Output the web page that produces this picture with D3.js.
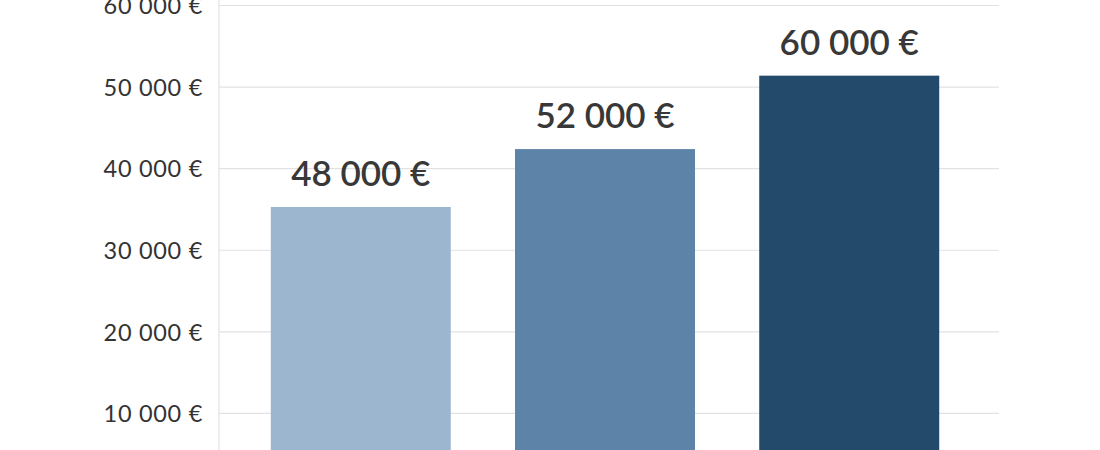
<!DOCTYPE html>
<html>
<head>
<meta charset="utf-8">
<script src="https://cdn.jsdelivr.net/npm/d3@7"></script>
<style>
  body { margin: 0; background: #fff; }
  text { font-family: Lato, "Noto Sans", sans-serif; }
</style>
</head>
<body>
<div id="chart"></div>
<script>
// Donnees
const categories = ["Poste 1", "Poste 2", "Poste 3"];
const barValues = [35300, 42400, 51400];
const barLabels = ["48 000 €", "52 000 €", "60 000 €"]; // etiquettes affichees
const barColors = ["#9db6cf", "#5d83a8", "#234a6b"];
const yTicks = [10000, 20000, 30000, 40000, 50000, 60000];

const width = 1100, height = 450;

const svg = d3.select("#chart").append("svg")
    .attr("width", width)
    .attr("height", height);

const x = d3.scaleBand()
    .domain(categories)
    .range([219, 991])
    .paddingInner(0.263)
    .paddingOuter(0.212);

const y = d3.scaleLinear()
    .domain([0, 60000])
    .range([495, 5.5]);

const fmt = v => d3.format(",")(v).replace(/,/g, " ") + " €";

// grille horizontale
svg.append("g")
    .selectAll("line")
    .data(yTicks)
    .enter().append("line")
    .attr("x1", 219)
    .attr("x2", 999)
    .attr("y1", d => y(d))
    .attr("y2", d => y(d))
    .attr("stroke", "#e2e2e2")
    .attr("stroke-width", 1.2);

// axe vertical
svg.append("line")
    .attr("x1", 219).attr("x2", 219)
    .attr("y1", 0).attr("y2", height)
    .attr("stroke", "#e2e2e2")
    .attr("stroke-width", 1.2);

// etiquettes de l'axe y
const yAxis = d3.axisLeft(y)
    .tickValues(yTicks)
    .tickFormat(fmt)
    .tickSize(0)
    .tickPadding(0);

const gy = svg.append("g")
    .attr("transform", "translate(203,0)")
    .call(yAxis);
gy.select(".domain").remove();
gy.selectAll("text")
    .style("font-family", "Lato, 'Noto Sans', sans-serif")
    .style("font-size", "23.5px")
    .style("letter-spacing", "0.7px")
    .attr("fill", "#333")
    .attr("dy", "0.35em");

// barres
svg.append("g")
    .selectAll("rect")
    .data(barValues)
    .enter().append("rect")
    .attr("x", (d, i) => x(categories[i]))
    .attr("width", x.bandwidth())
    .attr("y", d => y(d))
    .attr("height", d => y(0) - y(d))
    .attr("fill", (d, i) => barColors[i]);

// etiquettes des barres
svg.append("g")
    .selectAll("text")
    .data(barValues)
    .enter().append("text")
    .attr("x", (d, i) => x(categories[i]) + x.bandwidth() / 2)
    .attr("y", d => y(d) - 21)
    .attr("text-anchor", "middle")
    .style("font-size", "35px")
    .style("font-weight", "600")
    .attr("fill", "#383838")
    .text((d, i) => barLabels[i]);
</script>
</body>
</html>
